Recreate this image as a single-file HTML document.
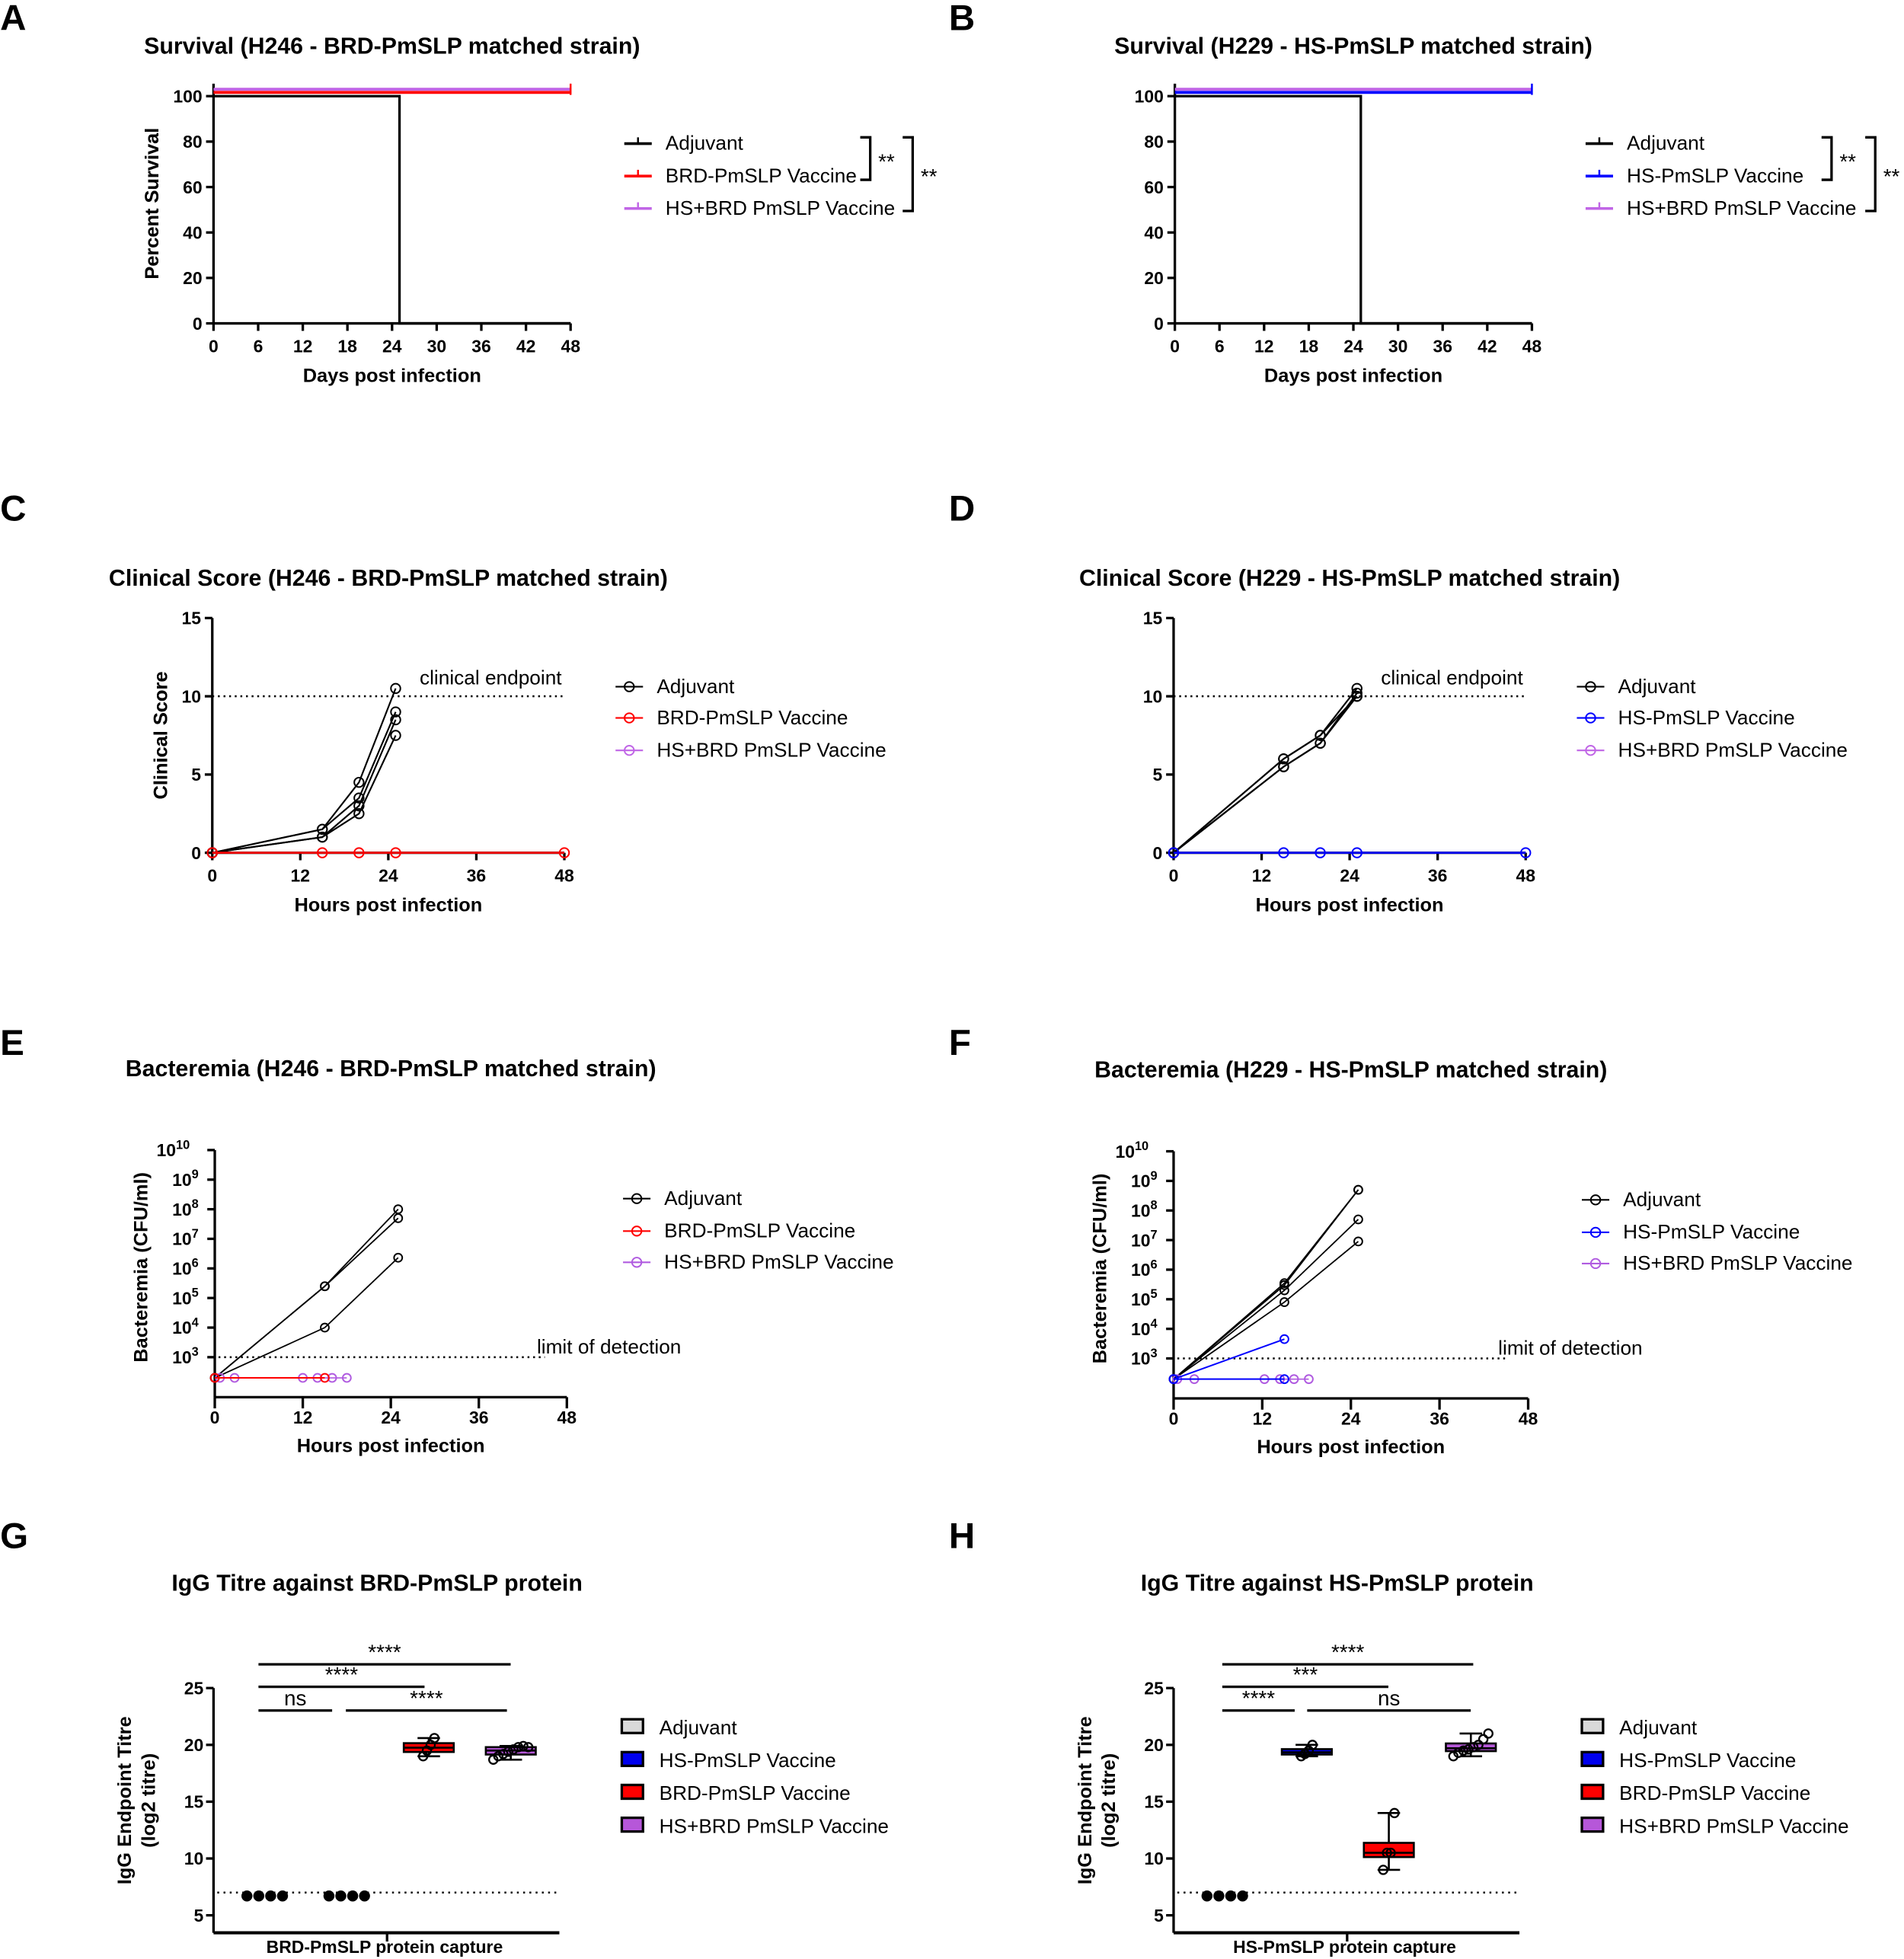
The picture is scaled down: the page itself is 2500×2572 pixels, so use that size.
<!DOCTYPE html>
<html><head><meta charset="utf-8">
<style>
html,body{margin:0;padding:0;background:#fff;}
svg{display:block;}
text{font-family:"Liberation Sans",Arial,sans-serif;fill:#000;}
.t{font-weight:bold;font-size:18.5px;}
.tk{font-weight:bold;font-size:14px;}
.ax{font-weight:bold;font-size:15.5px;}
.lg{font-size:16px;}
.sg{font-size:17px;}
.pl{font-weight:bold;font-size:29px;}
</style></head>
<body>
<svg id="fig" width="2500" height="2572" viewBox="0 0 1525 1569" xmlns="http://www.w3.org/2000/svg"></svg>
<script>
// ---- data ----
const survTimes = [0, 25, 48];
const survAdj = [100, 0, 0];
const survVac = [100, 100, 100];
const survTicksX = [0, 6, 12, 18, 24, 30, 36, 42, 48];
const survTicksY = [0, 20, 40, 60, 80, 100];

const csHours = [0, 15, 20, 25];
const csAdjC = [[0, 1.5, 4.5, 10.5], [0, 1.5, 3.5, 9], [0, 1, 3, 8.5], [0, 1, 2.5, 7.5]];
const csAdjD = [[0, 6, 7.5, 10.5], [0, 5.5, 7, 10], [0, 6, 7.5, 10], [0, 5.5, 7, 10.2]];
const csVacHours = [0, 15, 20, 25, 48];
const csVacC = [0, 0, 0, 0, 0];
const csVacD = [0, 0, 0, 0, 0];
const csTicksX = [0, 12, 24, 36, 48];
const csTicksY = [0, 5, 10, 15];
const csEndpoint = 10;

const bacHours = [0, 15, 25];
const bacAdjE = [[200, 2.5e5, 1e8], [200, 2.5e5, 5e7], [200, 1e4, 2.3e6]];
const bacAdjF = [[200, 3e5, 5e8], [200, 2e5, 5e7], [200, 8e4, 9e6], [200, 3.5e5, 5e8]];
const bacVacHours = [0, 15];
const bacRedE = [200, 200];
const bacBlueF1 = [200, 4500];
const bacBlueF2 = [200, 200];
const bacPurHoursE = [0.7, 2.7, 12, 14, 16, 18];
const bacPurHoursF = [0.5, 2.8, 12.3, 14.4, 16.3, 18.3];
const bacPurVals = [200, 200, 200, 200, 200, 200];
const bacTicksX = [0, 12, 24, 36, 48];
const bacTicksExp = [3, 4, 5, 6, 7, 8, 9, 10];
const bacLOD = 1000;

const iggGroups = ['Adjuvant', 'HS-PmSLP Vaccine', 'BRD-PmSLP Vaccine', 'HS+BRD PmSLP Vaccine'];
const iggG = [[6.7, 6.7, 6.7, 6.7], [6.7, 6.7, 6.7, 6.7], [19, 19.5, 20, 20.6], [18.7, 19, 19.2, 19.4, 19.6, 19.8, 19.9, 19.8]];
const iggH = [[6.7, 6.7, 6.7, 6.7], [19, 19.2, 19.5, 20], [9, 10.5, 10.5, 14], [19, 19.3, 19.5, 19.6, 19.8, 20, 20.5, 21]];
const iggTicksY = [5, 10, 15, 20, 25];
const iggLOD = 7;

// ---- helpers ----
const svg = document.getElementById('fig');
const NS = 'http://www.w3.org/2000/svg';
function E(tag, attrs, name, parent, txt) {
  const el = document.createElementNS(NS, tag);
  for (const k in attrs) el.setAttribute(k, attrs[k]);
  
  
  if (txt !== undefined) el.textContent = txt;
  (parent || svg).appendChild(el);
  return el;
}
function line(x1, y1, x2, y2, st, w, name, extra) {
  const a = {x1, y1, x2, y2, stroke: st, 'stroke-width': w};
  if (extra) Object.assign(a, extra);
  return E('line', a, name);
}
function txt(x, y, s, cls, anchor, name) {
  return E('text', {x, y, class: cls, 'text-anchor': anchor || 'middle'}, name, svg, s);
}
function vtxt(x, y, s, cls, name) {
  return E('text', {x: 0, y: 0, class: cls, 'text-anchor': 'middle', transform: `translate(${x},${y}) rotate(-90)`}, name, svg, s);
}
function circ(x, y, r, stroke, fill, name, w) {
  return E('circle', {cx: x, cy: y, r, stroke, fill, 'stroke-width': w || 1.2}, name);
}
function poly(pts, stroke, w, name) {
  return E('polyline', {points: pts.map(p => p.join(',')).join(' '), fill: 'none', stroke, 'stroke-width': w}, name);
}

function axes(o) {
  const X = d => o.px0 + (d - o.xmin) / (o.xmax - o.xmin) * (o.px1 - o.px0);
  const Y = v => o.py0 - (v - o.ymin) / (o.ymax - o.ymin) * (o.py0 - o.py1);
  line(o.px0, o.axisY, o.px0, o.yTop, '#000', 2, 'y-axis');
  line(o.px0, o.axisY, o.px1, o.axisY, '#000', 2, 'x-axis');
  o.xticks.forEach(t => {
    line(X(t), o.axisY, X(t), o.axisY + 6, '#000', 2, 'x-tick');
    txt(X(t), o.axisY + 23, String(t), 'tk', 'middle', 'x-tick-label');
  });
  if (o.yticks) o.yticks.forEach(t => {
    line(o.px0 - 6, Y(t), o.px0, Y(t), '#000', 2, 'y-tick');
    txt(o.px0 - 9, Y(t) + 5, String(t), 'tk', 'end', 'y-tick-label');
  });
  txt((o.px0 + o.px1) / 2, o.axisY + 47, o.xTitle, 'ax', 'middle', 'x-axis-title');
  vtxt(o.yTitleX, o.yTitleY, o.yTitle, 'ax', 'y-axis-title');
  return {X, Y};
}
function legendLine(x, y, color, label, marker) {
  line(x, y, x + 22, y, color, marker ? 1.3 : 2.2, 'legend-line');
  if (marker) circ(x + 11, y, 3.8, color, 'none', 'legend-marker');
  else line(x + 11, y - 5, x + 11, y, color, 1.5, 'legend-tick');
  txt(x + 33, y + 5, label, 'lg', 'start', 'legend-entry');
}

// ---- panel letters ----
[['A', 0, 24], ['B', 760, 24], ['C', 0, 417], ['D', 760, 417], ['E', 0, 845], ['F', 760, 845], ['G', 0, 1240], ['H', 760, 1240]]
  .forEach(p => txt(p[1], p[2], p[0], 'pl', 'start', 'panel-letter'));

// ---- survival panels ----
function survival(ox, title, vacColor, vacLabel) {
  txt(314 + ox, 43, title, 't', 'middle', 'chart-title');
  const a = axes({px0: 171 + ox, px1: 457 + ox, xmin: 0, xmax: 48, py0: 259, py1: 77, ymin: 0, ymax: 100,
    axisY: 259, yTop: 67, xticks: survTicksX, yticks: survTicksY, xTitle: 'Days post infection', yTitle: 'Percent Survival', yTitleX: 127, yTitleY: 163});
  const pts = [];
  for (let i = 0; i < survTimes.length; i++) {
    if (i > 0) pts.push([a.X(survTimes[i]), a.Y(survAdj[i - 1])]);
    pts.push([a.X(survTimes[i]), a.Y(survAdj[i])]);
  }
  poly(pts, '#000', 2, 'adjuvant-survival-line');
  const vp = survTimes.map((t, i) => [a.X(t), a.Y(survVac[i]) - 3]);
  poly(vp, vacColor, 2.4, 'vaccine-survival-line');
  const cp = survTimes.map((t, i) => [a.X(t), a.Y(survVac[i]) - 5.5]);
  poly(cp, '#c065e6', 2.4, 'combined-survival-line');
  line(a.X(48), a.Y(100) - 10, a.X(48), a.Y(100) - 1, vacColor, 1.5, 'censor-tick');
  legendLine(500 + ox, 115, '#000', 'Adjuvant');
  legendLine(500 + ox, 141, vacColor, vacLabel);
  legendLine(500 + ox, 167, '#c065e6', 'HS+BRD PmSLP Vaccine');
  const b1 = ox === 0 ? 697 : 1467, b2 = ox === 0 ? 731 : 1502;
  poly([[b1 - 8, 110], [b1, 110], [b1, 144], [b1 - 8, 144]], '#000', 2, 'significance-bracket');
  txt(b1 + 13, 135, '**', 'sg', 'middle', 'significance-label');
  poly([[b2 - 8, 110], [b2, 110], [b2, 169], [b2 - 8, 169]], '#000', 2, 'significance-bracket');
  txt(b2 + 13, 147, '**', 'sg', 'middle', 'significance-label');
}
survival(0, 'Survival (H246 - BRD-PmSLP matched strain)', '#ff0000', 'BRD-PmSLP Vaccine');
survival(770, 'Survival (H229 - HS-PmSLP matched strain)', '#0000ff', 'HS-PmSLP Vaccine');

// ---- clinical score panels ----
function clinical(ox, title, adj, vac, vacColor, vacLabel) {
  txt(311 + ox, 469, title, 't', 'middle', 'chart-title');
  const a = axes({px0: 170 + ox, px1: 452 + ox, xmin: 0, xmax: 48, py0: 683, py1: 495, ymin: 0, ymax: 15,
    axisY: 683, yTop: 495, xticks: csTicksX, yticks: csTicksY, xTitle: 'Hours post infection', yTitle: 'Clinical Score', yTitleX: 134, yTitleY: 589});
  line(a.X(0), a.Y(csEndpoint), a.X(48), a.Y(csEndpoint), '#000', 1.5, 'clinical-endpoint-line', {'stroke-dasharray': '1.5,3'});
  txt(393 + ox, 548, 'clinical endpoint', 'lg', 'middle', 'clinical-endpoint-label');
  adj.forEach(s => {
    poly(csHours.map((h, i) => [a.X(h), a.Y(s[i])]), '#000', 1.3, 'adjuvant-score-line');
    csHours.forEach((h, i) => circ(a.X(h), a.Y(s[i]), 3.8, '#000', 'none', 'adjuvant-score-point'));
  });
  poly(csVacHours.map((h, i) => [a.X(h), a.Y(vac[i])]), vacColor, 1.6, 'vaccine-score-line');
  csVacHours.forEach((h, i) => circ(a.X(h), a.Y(vac[i]), 3.8, vacColor, 'none', 'vaccine-score-point'));
  legendLine(493 + ox, 550, '#000', 'Adjuvant', true);
  legendLine(493 + ox, 575, vacColor, vacLabel, true);
  legendLine(493 + ox, 601, '#c065e6', 'HS+BRD PmSLP Vaccine', true);
}
clinical(0, 'Clinical Score (H246 - BRD-PmSLP matched strain)', csAdjC, csVacC, '#ff0000', 'BRD-PmSLP Vaccine');
clinical(770, 'Clinical Score (H229 - HS-PmSLP matched strain)', csAdjD, csVacD, '#0000ff', 'HS-PmSLP Vaccine');

// ---- bacteremia panels ----
function bacteremia(ox, oy, px0, px1, title, adj, vacSeries, vacColor, vacLabel, purHours, lodX) {
  txt((px0 + px1) / 2, 862 + oy, title, 't', 'middle', 'chart-title');
  const axisY = 1119 + oy, y3 = 1087 + oy, step = 23.7;
  const X = d => px0 + d / 48 * (px1 - px0);
  const Y = v => y3 - (Math.log10(v) - 3) * step;
  line(px0, axisY, px0, Y(1e10), '#000', 2, 'y-axis');
  line(px0, axisY, px1, axisY, '#000', 2, 'x-axis');
  bacTicksX.forEach(t => {
    line(X(t), axisY, X(t), axisY + 9, '#000', 2, 'x-tick');
    txt(X(t), axisY + 21, String(t), 'tk', 'middle', 'x-tick-label');
  });
  bacTicksExp.forEach(e => {
    line(px0 - 6, Y(Math.pow(10, e)), px0, Y(Math.pow(10, e)), '#000', 2, 'y-tick');
    const t = E('text', {x: px0 - (e === 10 ? 20 : 13), y: Y(Math.pow(10, e)) + 5, class: 'tk', 'text-anchor': 'end'}, 'y-tick-label', svg, '10');
    const s = E('tspan', {dy: -6, 'font-size': '10'}, 'y-tick-exponent', t, String(e));
    t.appendChild(s);
  });
  txt((px0 + px1) / 2, axisY + 44, 'Hours post infection', 'ax', 'middle', 'x-axis-title');
  vtxt(px0 - 54, 1015 + oy, 'Bacteremia (CFU/ml)', 'ax', 'y-axis-title');
  line(px0 + 3, Y(bacLOD), X(45), Y(bacLOD), '#000', 1.5, 'limit-of-detection-line', {'stroke-dasharray': '1.5,3'});
  txt(lodX, 1084 + oy, 'limit of detection', 'lg', 'start', 'limit-of-detection-label');
  adj.forEach(s => {
    poly(bacHours.map((h, i) => [X(h), Y(s[i])]), '#000', 1.1, 'adjuvant-bacteremia-line');
    bacHours.forEach((h, i) => circ(X(h), Y(s[i]), 3.3, '#000', 'none', 'adjuvant-bacteremia-point'));
  });
  poly(purHours.map((h, i) => [X(h), Y(bacPurVals[i])]), '#b05be0', 1, 'combined-bacteremia-line');
  purHours.forEach((h, i) => circ(X(h), Y(bacPurVals[i]), 3.3, '#b05be0', 'none', 'combined-bacteremia-point'));
  vacSeries.forEach(s => {
    poly(bacVacHours.map((h, i) => [X(h), Y(s[i])]), vacColor, 1.2, 'vaccine-bacteremia-line');
    bacVacHours.forEach((h, i) => circ(X(h), Y(s[i]), 3.3, vacColor, 'none', 'vaccine-bacteremia-point'));
  });
  legendLine(px0 + 327, 960 + oy, '#000', 'Adjuvant', true);
  legendLine(px0 + 327, 986 + oy, vacColor, vacLabel, true);
  legendLine(px0 + 327, 1011 + oy, '#b05be0', 'HS+BRD PmSLP Vaccine', true);
}
bacteremia(0, 0, 172, 454, 'Bacteremia (H246 - BRD-PmSLP matched strain)', bacAdjE, [bacRedE], '#ff0000', 'BRD-PmSLP Vaccine', bacPurHoursE, 430);
bacteremia(770, 1, 940, 1224, 'Bacteremia (H229 - HS-PmSLP matched strain)', bacAdjF, [bacBlueF1, bacBlueF2], '#0000ff', 'HS-PmSLP Vaccine', bacPurHoursF, 1200);

// ---- IgG panels ----
const iggColors = ['#d9d9d9', '#0000ee', '#ff0000', '#b657d9'];
function quant(arr, q) {
  const s = arr.slice().sort((a, b) => a - b);
  const p = (s.length - 1) * q, lo = Math.floor(p), hi = Math.ceil(p);
  return s[lo] + (s[hi] - s[lo]) * (p - lo);
}
function igg(px0, title, data, capture, sig) {
  txt(px0 + 131, 1274, title, 't', 'middle', 'chart-title');
  const axisY = 1548;
  const Y = v => 1534 - (v - 5) * 9.1;
  const gx = i => px0 + 41 + i * 65.7;
  line(px0, axisY, px0, Y(25), '#000', 2, 'y-axis');
  line(px0, axisY, px0 + 277, axisY, '#000', 2.5, 'x-axis');
  line(px0 + 139, axisY, px0 + 139, axisY + 7, '#000', 2, 'x-tick');
  iggTicksY.forEach(t => {
    line(px0 - 6, Y(t), px0, Y(t), '#000', 2, 'y-tick');
    txt(px0 - 8, Y(t) + 5, String(t), 'tk', 'end', 'y-tick-label');
  });
  txt(px0 + 137, 1564, capture, 'tk', 'middle', 'x-axis-title');
  vtxt(px0 - 66, 1442, 'IgG Endpoint Titre', 'ax', 'y-axis-title');
  vtxt(px0 - 47, 1442, '(log2 titre)', 'ax', 'y-axis-title');
  line(px0 + 3, Y(iggLOD), px0 + 277, Y(iggLOD), '#000', 1.5, 'limit-of-detection-line', {'stroke-dasharray': '1.5,3.5'});
  data.forEach((vals, i) => {
    const cx = gx(i);
    const q1 = quant(vals, 0.25), q3 = quant(vals, 0.75), md = quant(vals, 0.5);
    const mn = Math.min(...vals), mx = Math.max(...vals);
    if (mx - mn > 0.01) {
      line(cx, Y(mx), cx, Y(mn), '#000', 1.6, 'box-whisker');
      line(cx - 9, Y(mx), cx + 9, Y(mx), '#000', 1.6, 'whisker-cap');
      line(cx - 9, Y(mn), cx + 9, Y(mn), '#000', 1.6, 'whisker-cap');
      E('rect', {x: cx - 20, y: Y(q3), width: 40, height: Math.max(Y(q1) - Y(q3), 1), fill: iggColors[i], stroke: '#000', 'stroke-width': 1.6}, 'box-' + i);
      line(cx - 20, Y(md), cx + 20, Y(md), '#000', 1.6, 'box-median');
      vals.forEach((v, j) => {
        const off = (j - (vals.length - 1) / 2) * (vals.length > 4 ? 4 : 3);
        circ(cx + off, Y(v), 3.4, '#000', 'none', 'data-point', 1.4);
      });
    } else {
      vals.forEach((v, j) => {
        const off = (j - (vals.length - 1) / 2) * 9.5;
        circ(cx + off, Y(v), 3.8, '#000', '#000', 'data-point-below-lod');
      });
    }
  });
  sig.forEach(s => {
    line(px0 + s[0], s[2], px0 + s[1], s[2], '#000', 2, 'significance-bar');
    txt(px0 + (s[0] + s[1]) / 2, s[2] - 4, s[3], 'sg', 'middle', 'significance-label');
  });
  iggGroups.forEach((g, i) => {
    E('rect', {x: px0 + 327, y: 1377 + i * 26.3, width: 17, height: 11, fill: iggColors[i], stroke: '#000', 'stroke-width': 2}, 'legend-swatch');
    txt(px0 + 357, 1389 + i * 26.3, g, 'lg', 'start', 'legend-entry');
  });
}
igg(171, 'IgG Titre against BRD-PmSLP protein', iggG, 'BRD-PmSLP protein capture',
  [[36, 238, 1333, '****'], [36, 169, 1351, '****'], [36, 95, 1370, 'ns'], [106, 235, 1370, '****']]);
igg(940, 'IgG Titre against HS-PmSLP protein', iggH, 'HS-PmSLP protein capture',
  [[39, 240, 1333, '****'], [39, 172, 1351, '***'], [39, 97, 1370, '****'], [107, 238, 1370, 'ns']]);
</script>
</body></html>
